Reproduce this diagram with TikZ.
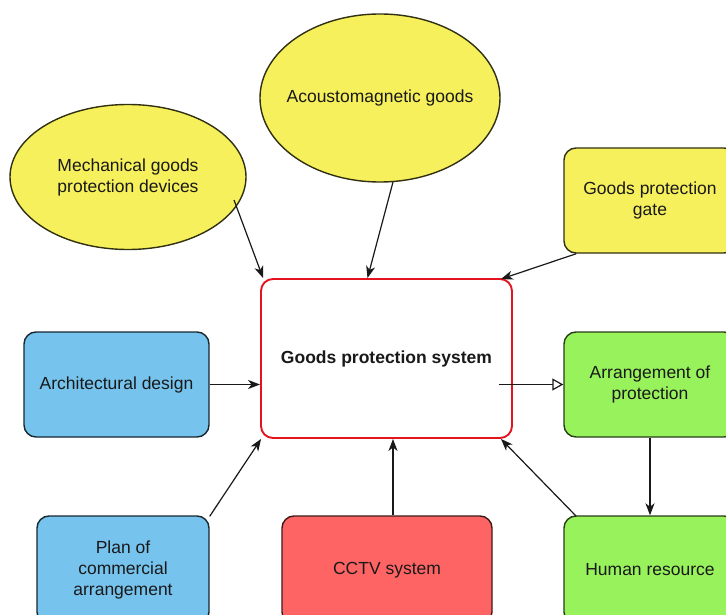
\documentclass[tikz,border=0pt]{standalone}
\usepackage{fontspec}
\setmainfont{Liberation Sans}
\usetikzlibrary{shapes.geometric,arrows.meta,calc}

\definecolor{yel}{RGB}{246,240,92}
\definecolor{blu}{RGB}{118,196,238}
\definecolor{grn}{RGB}{152,242,92}
\definecolor{rdf}{RGB}{255,100,100}
\definecolor{frame}{RGB}{228,20,30}

\tikzset{
  lbl/.style={font=\fontsize{17.5}{21}\selectfont, align=center, text=black!90},
  box/.style={lbl, rectangle, rounded corners=12pt, line width=1.4pt, inner sep=0pt},
  oval/.style={ellipse, line width=1.4pt, inner sep=0pt, fill=yel, draw=black!80!yel},
  ybox/.style={box, fill=yel, draw=black!80!yel},
  bbox/.style={box, fill=blu, draw=black!80!blu},
  gbox/.style={box, fill=grn, draw=black!75!grn},
  rbox/.style={box, fill=rdf, draw=black!75!rdf},
  link/.style={line width=1.2pt, draw=black!90, -{Stealth[length=12pt,width=9pt,inset=3.5pt]}},
  openlink/.style={line width=1.2pt, draw=black!90, -{Triangle[open,length=11pt,width=12pt,fill=white]}}
}

\begin{document}
\begin{tikzpicture}[x=1pt,y=-1pt]
  \useasboundingbox (0,0) rectangle (726,615);
  \clip (0,0) rectangle (726,615);
  \fill[white] (0,0) rectangle (726,615);

  % central hub
  \node[box, draw=frame, fill=white, line width=1.9pt, minimum width=251pt, minimum height=159pt,
        font=\fontsize{17.5}{21}\selectfont\bfseries] (sys) at (386.5,358.5) {Goods protection system};

  % upper inputs (ellipses sized independently of their labels)
  \node[oval, minimum width=236pt, minimum height=145pt] (mech) at (128,177) {};
  \node[lbl] (mechT) at (mech.center) {Mechanical goods\\protection devices};
  \node[oval, minimum width=240pt, minimum height=168pt] (acou) at (380,98) {};
  \node[lbl] (acouT) at (acou.center) {Acoustomagnetic goods};
  \node[ybox, minimum width=172pt, minimum height=105pt] (gate) at (650,200.5)
       {Goods protection\\gate};

  % middle row
  \node[bbox, minimum width=185pt, minimum height=105pt] (arch) at (116.5,384.5)
       {Architectural design};
  \node[gbox, minimum width=172pt, minimum height=105pt] (arrp) at (650,384.5)
       {Arrangement of\\protection};

  % bottom row
  \node[bbox, minimum width=172pt, minimum height=108pt] (plan) at (123,570)
       {Plan of\\commercial\\arrangement};
  \node[rbox, minimum width=210pt, minimum height=108pt] (cctv) at (387,570)
       {CCTV system};
  \node[gbox, minimum width=172pt, minimum height=108pt] (human) at (650,570)
       {Human resource};

  % connector end points
  \coordinate (mechOut) at ($(mech.center)+(106,23)$);
  \coordinate (acouOut) at ($(acou.center)+(13,84)$);
  \coordinate (hubIn)   at ($(sys.center)+(112,26)$);
  \coordinate (cctvIn)  at ($(cctv.north)+(6,0)$);

  % connectors
  \draw[link] (mechOut) -- ($(sys.north west)+(3,0)$);
  \draw[link] (acouOut) -- ($(sys.north)+(-19,0)$);
  \draw[link] ($(gate.south west)+(13,0)$) -- ($(sys.north east)+(-12,1)$);
  \draw[link] (arch.east) -- (arch.east -| sys.west);
  \draw[openlink] (hubIn) -- (hubIn -| arrp.west);
  \draw[link] (arrp.south) -- (human.north);
  \draw[link] ($(plan.north east)+(0,1)$) -- ($(sys.south west)+(1,0)$);
  \draw[link] (cctvIn) -- (cctvIn |- sys.south);
  \draw[link] ($(human.north west)+(13,1)$) -- ($(sys.south east)+(-12,0)$);
\end{tikzpicture}
\end{document}
